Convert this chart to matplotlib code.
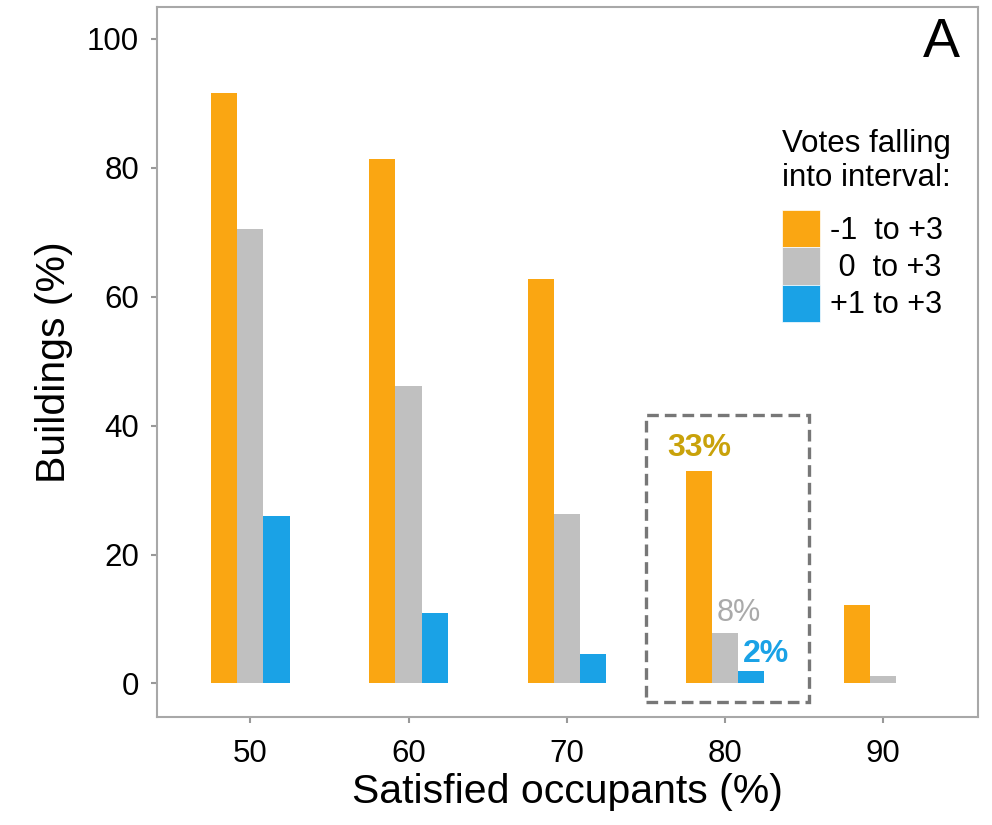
import matplotlib
matplotlib.use("Agg")
import numpy as np
import matplotlib.pyplot as plt
from matplotlib.patches import Rectangle

plt.rcParams['font.family'] = ['Liberation Sans', 'DejaVu Sans']

# data
occupants = [50, 60, 70, 80, 90]
votes_m1 = [91.5, 81.3, 62.7, 33.0, 12.2]   # -1 to +3
votes_0 = [70.4, 46.2, 26.3, 7.8, 1.2]      # 0 to +3
votes_p1 = [26.0, 11.0, 4.5, 2.0, 0.0]      # +1 to +3
series_labels = ['-1  to +3', ' 0  to +3', '+1 to +3']
yticks = [0, 20, 40, 60, 80, 100]

c_orange = '#FAA612'
c_grey = '#C0C0C0'
c_blue = '#1AA2E6'

fig = plt.figure(figsize=(9.92, 8.25), dpi=100)
ax = fig.add_axes([0.1583, 0.1309, 0.8276, 0.8606])

x = np.array(occupants, dtype=float)
w = 1.65
ax.bar(x - w, votes_m1, w, color=c_orange, label=series_labels[0])
ax.bar(x, votes_0, w, color=c_grey, label=series_labels[1])
ax.bar(x + w, votes_p1, w, color=c_blue, label=series_labels[2])

ax.set_xlim(44.1, 96.0)
ax.set_ylim(-5.2, 104.9)
ax.set_xticks(occupants)
ax.set_yticks(yticks)

for sp in ax.spines.values():
    sp.set_color('#a8a8a8')
    sp.set_linewidth(1.5)
ax.tick_params(axis='both', colors='#999999', length=4, width=1.5,
               labelcolor='black', labelsize=22.5)
ax.tick_params(axis='x', pad=12)
ax.tick_params(axis='y', pad=9)

ax.set_xlabel('Satisfied occupants (%)', fontsize=29.5, labelpad=3)
ax.set_ylabel('Buildings (%)', fontsize=29.5, labelpad=10)

# highlight box around 80 %
i80 = occupants.index(80)
ax.add_patch(Rectangle((75.0, -2.9), 10.3, 44.5, fill=False, ls=(0, (3.5, 1.8)),
                       lw=2.4, edgecolor='#777777', zorder=3))
ax.text(x[i80] - w, votes_m1[i80] + 1.2, '%d%%' % round(votes_m1[i80]),
        ha='center', va='bottom', fontsize=23, fontweight='bold', color='#C9A20A')
ax.text(x[i80] + 0.9, votes_0[i80] + 0.8, '%d%%' % round(votes_0[i80]),
        ha='center', va='bottom', fontsize=22, color='#AAAAAA')
ax.text(x[i80] + 2.6, votes_p1[i80] + 0.2, '%d%%' % round(votes_p1[i80]),
        ha='center', va='bottom', fontsize=23, fontweight='bold', color=c_blue)

leg = ax.legend(title='Votes falling\ninto interval:', loc='upper right',
                bbox_to_anchor=(0.985, 0.85), frameon=False, fontsize=22,
                title_fontsize=22.5, handlelength=1.25, handleheight=1.5,
                handletextpad=0.35, labelspacing=0.0, borderpad=0.0,
                alignment='left')
leg._legend_box.sep = 12
for h in leg.legend_handles:
    h.set_edgecolor('white')
    h.set_linewidth(0.5)

ax.text(0.956, 0.949, 'A', transform=ax.transAxes, ha='center', va='center',
        fontsize=40)

fig.savefig('out.png', dpi=100)
